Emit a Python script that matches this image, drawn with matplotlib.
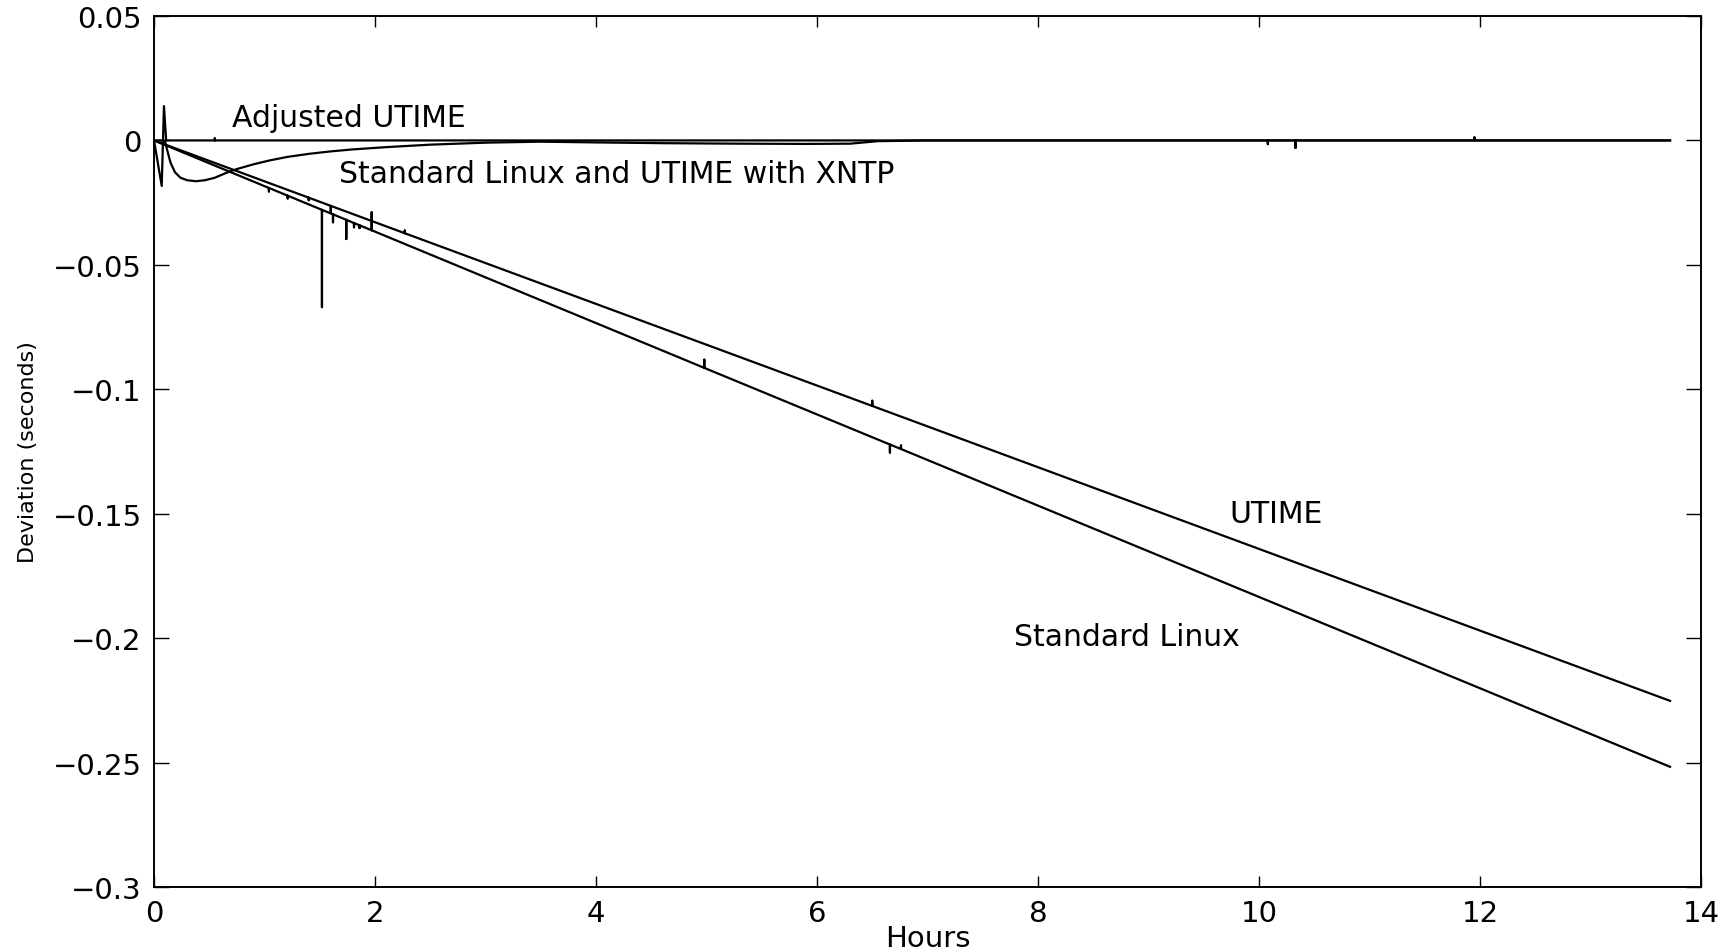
import matplotlib
matplotlib.use('Agg')
import matplotlib.pyplot as plt

# hours / deviation (seconds)
linux_h = [0.00, 1.04, 1.04, 1.04, 1.21, 1.21, 1.21, 1.52, 1.52, 1.52, 1.62, 1.62, 1.62,
           1.74, 1.74, 1.74, 1.81, 1.81, 1.81, 1.86, 1.86, 1.86, 1.97, 1.97, 1.97,
           4.98, 4.98, 4.98, 6.66, 6.66, 6.66, 6.76, 6.76, 6.76, 13.72]
linux_dev = [0.0, -0.0191, -0.0205, -0.0191, -0.0222, -0.0233, -0.0222, -0.0279, -0.0670, -0.0279,
             -0.0297, -0.0329, -0.0297, -0.0319, -0.0396, -0.0319, -0.0332, -0.0349, -0.0332,
             -0.0341, -0.0352, -0.0341, -0.0361, -0.0289, -0.0361,
             -0.0914, -0.0881, -0.0914, -0.1222, -0.1254, -0.1222, -0.1240, -0.1226, -0.1240, -0.2517]

utime_h = [0.00, 1.40, 1.40, 1.40, 1.60, 1.60, 1.60, 2.27, 2.27, 2.27, 6.50, 6.50, 6.50, 13.72]
utime_dev = [0.0, -0.0230, -0.0240, -0.0230, -0.0263, -0.0290, -0.0263, -0.0373, -0.0362, -0.0373,
             -0.1067, -0.1046, -0.1067, -0.2252]

adj_h = [0.00, 0.07, 0.09, 0.11, 0.55, 0.55, 0.55, 10.08, 10.08, 10.08, 10.33, 10.33, 10.33,
         11.95, 11.95, 11.95, 13.72]
adj_dev = [0.0, -0.0183, 0.0138, 0.0, 0.0, 0.0008, 0.0, 0.0, -0.0015, 0.0, 0.0, -0.0030, 0.0,
           0.0, 0.0012, 0.0, 0.0]

xntp_h = [0.00, 0.09, 0.10, 0.12, 0.15, 0.19, 0.24, 0.30, 0.38, 0.46, 0.55, 0.65, 0.75, 0.90,
          1.05, 1.21, 1.40, 1.60, 1.80, 2.10, 2.50, 3.00, 3.50, 4.00, 4.60, 5.30, 5.90, 6.30,
          6.55, 7.00, 13.72]
xntp_dev = [0.0, 0.0, -0.0003, -0.0040, -0.0090, -0.0128, -0.0150, -0.0160, -0.0164, -0.0160,
            -0.0150, -0.0131, -0.0115, -0.0096, -0.0080, -0.0066, -0.0054, -0.0044, -0.0036,
            -0.0027, -0.0017, -0.0009, -0.0005, -0.0008, -0.0011, -0.0013, -0.0014, -0.0013,
            -0.0003, 0.0, 0.0]

xticks = [0, 2, 4, 6, 8, 10, 12, 14]
yticks = [0.05, 0, -0.05, -0.1, -0.15, -0.2, -0.25, -0.3]

plt.rcParams['font.family'] = ['DejaVu Sans']

fig = plt.figure(figsize=(17.32, 9.53), dpi=100)
ax = fig.add_axes([154/1732, 1 - 888/953, 1547/1732, 871/953])

lw = 1.6
ax.plot(linux_h, linux_dev, color='k', lw=lw)
ax.plot(utime_h, utime_dev, color='k', lw=lw)
ax.plot(xntp_h, xntp_dev, color='k', lw=lw)
ax.plot(adj_h, adj_dev, color='k', lw=lw)

ax.set_xlim(0, 14)
ax.set_ylim(-0.3, 0.05)
ax.set_xticks(xticks)
ax.set_xticklabels([str(t) for t in xticks])
ax.set_yticks(yticks)
ax.set_yticklabels(['0.05', '0', '\u22120.05', '\u22120.1', '\u22120.15', '\u22120.2', '\u22120.25', '\u22120.3'])
ax.tick_params(axis='both', direction='in', top=True, right=True, labelsize=21, width=1.0)
ax.tick_params(axis='x', length=8, pad=9)
ax.tick_params(axis='y', length=11, pad=9)
for s in ax.spines.values():
    s.set_linewidth(1.4)

ax.set_xlabel('Hours', fontsize=21, va='center')
ax.xaxis.set_label_coords(0.5, -0.0586)
ax.set_ylabel('Deviation (seconds)', fontsize=16, va='center')
ax.yaxis.set_label_coords(-0.0814, 0.5)

fs = 21.5
ax.text(0.706, 0.0094, 'Adjusted UTIME', fontsize=fs, ha='left', va='center')
ax.text(1.67, -0.0131, 'Standard Linux and UTIME with XNTP', fontsize=fs, ha='left', va='center')
ax.text(9.73, -0.150, 'UTIME', fontsize=fs, ha='left', va='center')
ax.text(7.78, -0.1995, 'Standard Linux', fontsize=fs, ha='left', va='center')

fig.savefig('out.png', dpi=100)
